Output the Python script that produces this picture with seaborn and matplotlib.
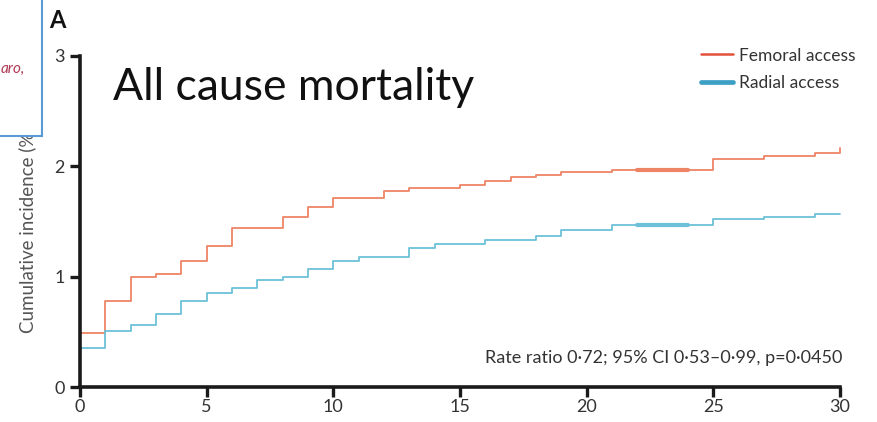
import matplotlib
matplotlib.use("Agg")
import matplotlib.pyplot as plt
import seaborn as sns
import pandas as pd
from matplotlib.patches import Rectangle
from matplotlib.lines import Line2D

# ---- data ----
months = [0, 0] + list(range(1, 31))
femoral = [0.00, 0.49,
           0.78, 1.00, 1.02, 1.14, 1.28, 1.44, 1.44, 1.54, 1.63, 1.71,
           1.71, 1.78, 1.80, 1.80, 1.83, 1.87, 1.90, 1.92, 1.95, 1.95,
           1.97, 1.97, 1.97, 1.97, 2.07, 2.07, 2.09, 2.09, 2.12, 2.17]
radial = [0.00, 0.35,
          0.51, 0.56, 0.66, 0.78, 0.85, 0.90, 0.97, 1.00, 1.07, 1.14,
          1.18, 1.18, 1.26, 1.30, 1.30, 1.33, 1.33, 1.37, 1.42, 1.42,
          1.47, 1.47, 1.47, 1.47, 1.52, 1.52, 1.54, 1.54, 1.57, 1.57]
censor_months = [22, 24]
femoral_censor = [1.97, 1.97]
radial_censor = [1.47, 1.47]
series_names = ["Femoral access", "Radial access"]
x_ticks = [0, 5, 10, 15, 20, 25, 30]
y_ticks = [0, 1, 2, 3]
title = "All cause mortality"
panel = "A"
ylabel = "Cumulative incidence (%)"
note = "Rate ratio 0\u00b772; 95% CI 0\u00b753\u20130\u00b799, p=0\u00b70450"

df = pd.DataFrame({
    "month": months + months,
    "value": femoral + radial,
    "group": [series_names[0]] * len(months) + [series_names[1]] * len(months),
})
cdf = pd.DataFrame({
    "month": censor_months + censor_months,
    "value": femoral_censor + radial_censor,
    "group": [series_names[0]] * 2 + [series_names[1]] * 2,
})

sns.set_style("ticks")
plt.rcParams["font.family"] = ["Lato", "DejaVu Sans"]

line_pal = {series_names[0]: "#ee8466", series_names[1]: "#6cc0d8"}
leg_pal = [("#e4513a", 1.8), ("#3d9fc4", 3.4)]

fig = plt.figure(figsize=(8.77, 4.22), dpi=100)
ax = fig.add_axes([80 / 877, 35 / 422, 760 / 877, 331 / 422])

sns.lineplot(data=df, x="month", y="value", hue="group", palette=line_pal,
             estimator=None, sort=False, drawstyle="steps-post",
             linewidth=1.3, ax=ax, legend=False, clip_on=False)
sns.lineplot(data=cdf, x="month", y="value", hue="group", palette=line_pal,
             estimator=None, sort=False, linewidth=3.0, ax=ax, legend=False)

ax.set_xlim(0, 30)
ax.set_ylim(0, 3)
ax.set_xticks(x_ticks)
ax.set_yticks(y_ticks)
ax.set_xlabel("")
ax.set_ylabel(ylabel, fontsize=13.5, color="#555555")
ax.yaxis.set_label_coords(-0.058, 0.474)
for side in ["top", "right"]:
    ax.spines[side].set_visible(False)
for side in ["left", "bottom"]:
    ax.spines[side].set_linewidth(2.6)
    ax.spines[side].set_color("#1a1a1a")
ax.tick_params(axis="both", length=7, width=2.4, color="#1a1a1a",
               labelsize=13, labelcolor="#333333", pad=2)
ax.tick_params(axis="y", pad=4)

# legend
handles = [Line2D([0], [0], color=c, lw=w) for c, w in leg_pal]
leg = ax.legend(handles, series_names, loc="upper right",
                bbox_to_anchor=(1.0245, 1.036), frameon=False, fontsize=12.5,
                handlelength=1.85, handletextpad=0.3, labelspacing=0.68,
                borderaxespad=0, borderpad=0.2)
for t in leg.get_texts():
    t.set_color("#333333")

ax.text(1.003, 0.088, note, transform=ax.transAxes, ha="right", va="center",
        fontsize=13, color="#333333")

fig.text(113 / 877, 1 - 100 / 422, title, ha="left", va="baseline",
         fontsize=32, color="#111111")
fig.text(57 / 877, 1 - 28 / 422, panel, ha="center", va="baseline",
         fontsize=17, fontweight="bold", color="#111111")

# overlay box from the slide
box = Rectangle((-2 / 877, 1 - 136 / 422), 44 / 877, 138 / 422,
                transform=fig.transFigure, facecolor="white",
                edgecolor="#5b9bd5", linewidth=1.5, zorder=10)
fig.patches.append(box)
fig.text(1 / 877, 1 - 69 / 422, "aro,", ha="left", va="center",
         fontsize=11, style="italic", color="#b03a55", zorder=11)

fig.savefig("out.png", dpi=100)
